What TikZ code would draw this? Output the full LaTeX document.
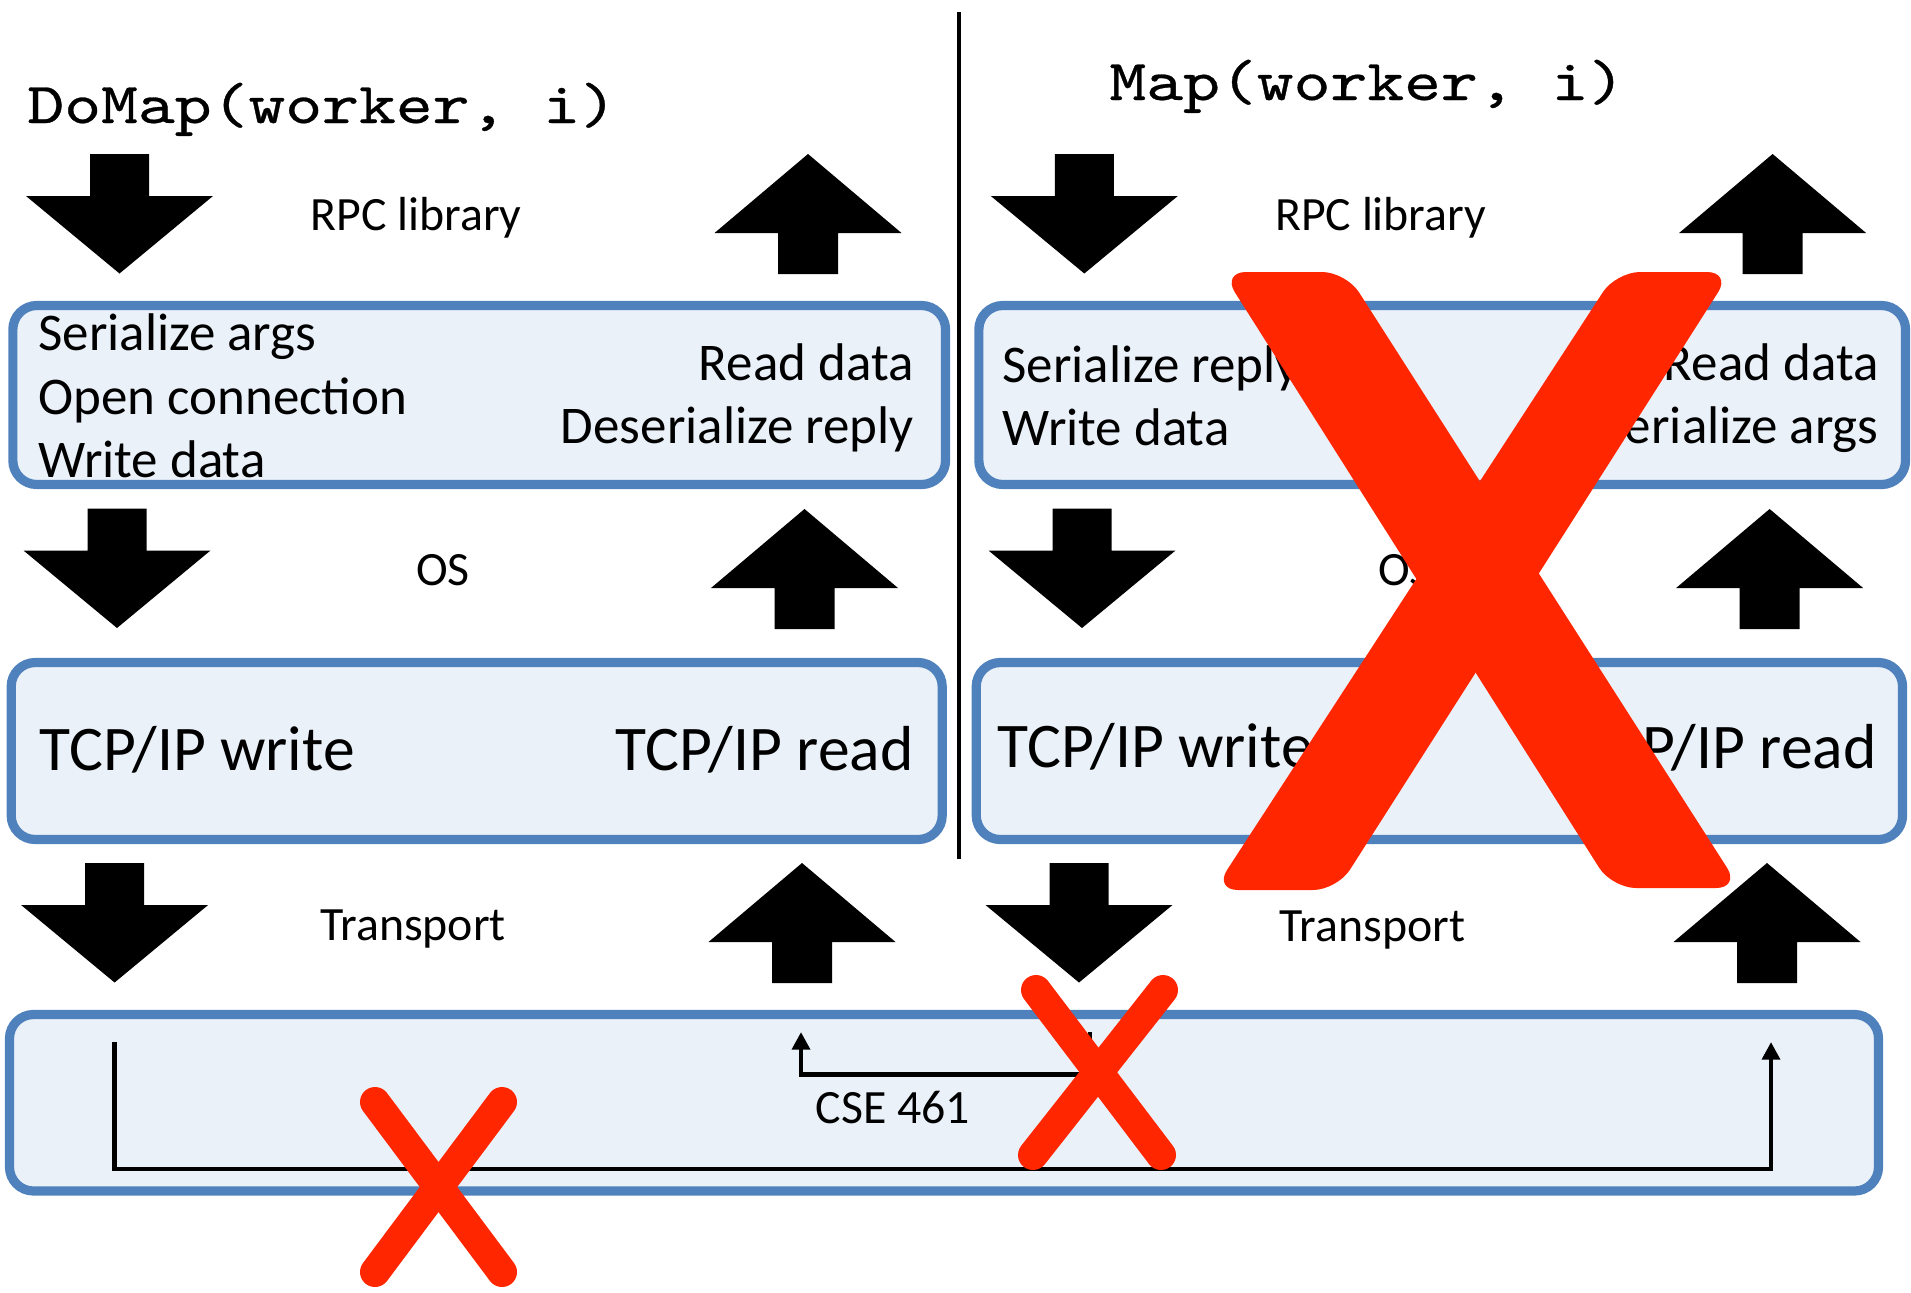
\documentclass[tikz,border=0pt]{standalone}
\usepackage{fontspec}
\usetikzlibrary{arrows.meta}
\newfontfamily\calfont{Carlito}
\newfontfamily\monofont{lmmono10-regular.otf}[FakeBold=0.5]
\definecolor{boxblue}{RGB}{79,129,189}
\definecolor{boxfill}{RGB}{234,241,249}
\definecolor{xred}{RGB}{255,38,0}
\tikzset{
  downblock/.pic={\fill (-29.5,0) -- (29.5,0) -- (29.5,42) -- (93.5,42) -- (0,119.5) -- (-93.5,42) -- (-29.5,42) -- cycle;},
  upblock/.pic={\fill (0,0) -- (93.5,79) -- (30,79) -- (30,120) -- (-30,120) -- (-30,79) -- (-93.5,79) -- cycle;}
}
\begin{document}
\begin{tikzpicture}[x=0.5pt,y=-0.5pt,
  layerbox/.style={rectangle, draw=boxblue, fill=boxfill, line width=4.6pt, rounded corners=12pt, inner sep=0pt},
  boxtext/.style={font=\calfont\fontsize{26.5}{31}\selectfont, inner sep=0pt},
  bigtext/.style={font=\calfont\fontsize{31.8}{37}\selectfont, inner sep=0pt},
  labeltext/.style={font=\calfont\fontsize{23.9}{28}\selectfont, inner sep=0pt},
  titletext/.style={font=\monofont\fontsize{29}{34}\selectfont, inner sep=0pt},
  flow/.style={line width=2.2pt, -{Triangle[length=8.8pt,width=8.8pt]}},
  redx/.style={draw=xred, line width=15pt, line cap=round},
  redarm/.style={fill=xred, rounded corners=12pt}
]
\useasboundingbox (0,0) rectangle (1911,1292);

% titles
\node[titletext, anchor=base west] (t1) at (27,123) {\scalebox{1.21}[1]{DoMap(worker, i)}};
\node[titletext, anchor=base west] (t2) at (1109,100) {\scalebox{1.21}[1]{Map(worker, i)}};

% divider
\draw[line width=2pt] (959,12) -- (959,859);

% boxes
\node[layerbox, minimum width=466.35pt, minimum height=89.5pt] (lb1) at (479.2,395) {};
\node[layerbox, minimum width=463.35pt, minimum height=89.5pt] (rb1) at (1442.2,395) {};
\node[layerbox, minimum width=465.5pt, minimum height=88.5pt] (lb2) at (476.7,751) {};
\node[layerbox, minimum width=463.15pt, minimum height=88.5pt] (rb2) at (1439.4,751) {};
\node[layerbox, minimum width=934.5pt, minimum height=88.25pt] (tb) at (944,1102.75) {};

% box texts
\node[boxtext, anchor=base west] (l1a) at (38,350) {Serialize args};
\node[boxtext, anchor=base west] (l1b) at (38,414) {Open connection};
\node[boxtext, anchor=base west] (l1c) at (38,477) {Write data};
\node[boxtext, anchor=base east] (l1d) at (914,380) {Read data};
\node[boxtext, anchor=base east] (l1e) at (914,443) {Deserialize reply};

\node[boxtext, anchor=base west] (r1a) at (1002,382) {Serialize reply};
\node[boxtext, anchor=base west] (r1b) at (1002,445) {Write data};
\node[boxtext, anchor=base east] (r1c) at (1879,380) {Read data};
\node[boxtext, anchor=base east] (r1d) at (1879,443) {Deserialize args};

\node[bigtext, anchor=base west] (l2a) at (39,770) {TCP/IP write};
\node[bigtext, anchor=base east] (l2b) at (914,770) {TCP/IP read};
\node[bigtext, anchor=base west] (r2a) at (997,767) {TCP/IP write};
\node[bigtext, anchor=base east] (r2b) at (1877,768) {TCP/IP read};

% layer labels
\node[labeltext, anchor=base] (rpcl) at (416,230) {RPC library};
\node[labeltext, anchor=base] (rpcr) at (1380.6,230) {RPC library};
\node[labeltext, anchor=base] (osl) at (443,585) {OS};
\node[labeltext, anchor=base] (osr) at (1405,585) {OS};
\node[labeltext, anchor=base] (trl) at (413,940) {Transport};
\node[labeltext, anchor=base] (trr) at (1372.5,941) {Transport};
\node[labeltext, anchor=base] (cse) at (893,1123) {CSE 461};

% block arrows
\pic (d1l) at (119.5,154) {downblock};
\pic (u1l) at (808,154) {upblock};
\pic (d1r) at (1084.3,154) {downblock};
\pic (u1r) at (1772.6,154) {upblock};
\pic (d2l) at (117,508.5) {downblock};
\pic (u2l) at (804.5,509) {upblock};
\pic (d2r) at (1082,508.5) {downblock};
\pic (u2r) at (1769.6,509) {upblock};
\pic (d3l) at (114.6,863) {downblock};
\pic (u3l) at (802,863) {upblock};
\pic (d3r) at (1079,863) {downblock};
\pic (u3r) at (1767,863) {upblock};

% transport connectors
\coordinate (p1) at (114.5,1042);
\coordinate (p2) at (114.5,1169);
\coordinate (p3) at (1771,1169);
\coordinate (p4) at (1771,1042);
\draw[flow] (p1) -- (p2) -- (p3) -- (p4);
\coordinate (q1) at (1090,1032);
\coordinate (q2) at (1090,1074.5);
\coordinate (q3) at (801,1074.5);
\coordinate (q4) at (801,1032);
\draw[flow] (q1) -- (q2) -- (q3) -- (q4);

% red crosses
\fill[redarm] (1222,272) -- (1346,272) -- (1740,888) -- (1612,888) -- cycle;
\fill[redarm] (1616,272) -- (1731,272) -- (1337,890) -- (1214,890) -- cycle;
\draw[redx] (1036,990) -- (1161,1155);
\draw[redx] (1163,990) -- (1033,1155);
\draw[redx] (375,1102) -- (502,1272);
\draw[redx] (502,1102) -- (375,1272);
\end{tikzpicture}
\end{document}
